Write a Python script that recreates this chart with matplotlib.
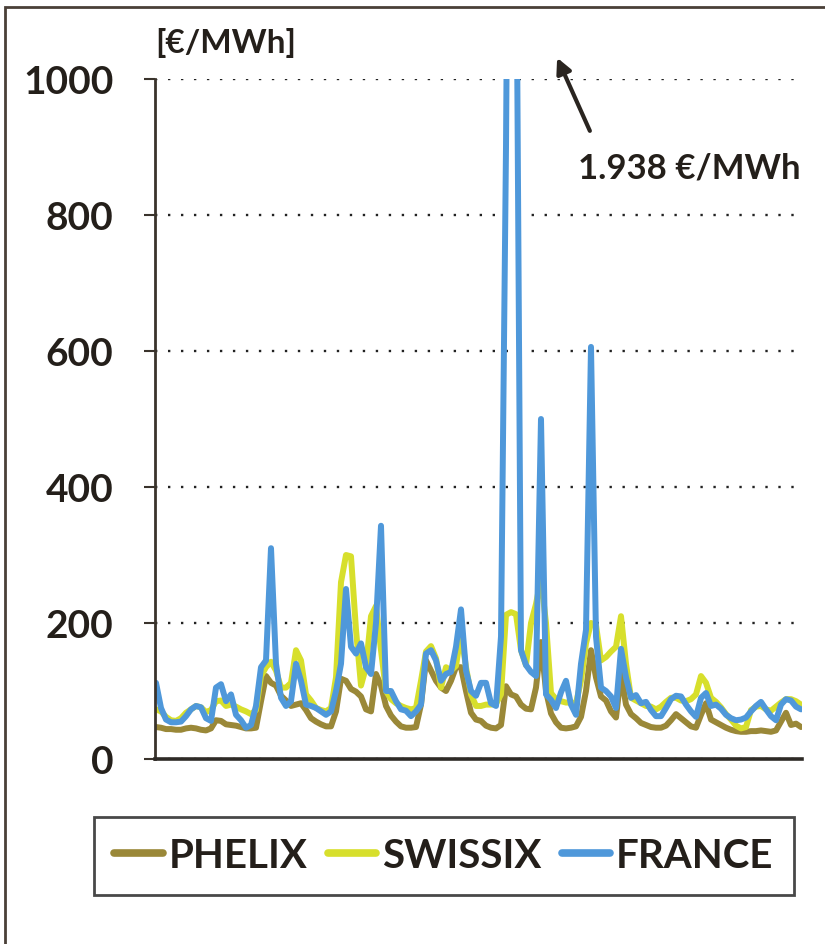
import matplotlib
matplotlib.use("Agg")
import matplotlib.pyplot as plt
from matplotlib.patches import Rectangle
import numpy as np

# hourly spot prices [EUR/MWh]
phelix = [
    47, 46, 44, 44, 43, 43, 45, 46, 45, 43,
    42, 45, 57, 56, 51, 50, 49, 47, 45, 45,
    46, 85, 122, 112, 108, 93, 86, 78, 80, 82,
    72, 60, 55, 51, 48, 48, 70, 118, 115, 103,
    99, 92, 73, 70, 125, 108, 78, 64, 55, 48,
    46, 46, 47, 80, 145, 130, 115, 105, 100, 115,
    135, 135, 100, 68, 58, 56, 49, 46, 45, 50,
    107, 95, 92, 80, 74, 73, 105, 172, 100, 67,
    54, 46, 45, 46, 48, 62, 100, 160, 120, 92,
    86, 70, 61, 125, 80, 66, 60, 53, 50, 47,
    46, 46, 49, 57, 66, 60, 54, 48, 46, 65,
    82, 58, 54, 50, 46, 43, 41, 40, 40, 41,
    41, 42, 41, 40, 42, 55, 68, 50, 52, 47,
]
swissix = [
    73, 70, 62, 57, 56, 60, 68, 73, 78, 76,
    69, 72, 85, 86, 78, 80, 77, 73, 70, 66,
    72, 122, 135, 143, 130, 105, 105, 112, 160, 145,
    95, 86, 75, 72, 70, 75, 120, 260, 300, 298,
    190, 108, 135, 210, 225, 160, 100, 88, 82, 78,
    75, 73, 75, 115, 158, 166, 148, 105, 135, 130,
    137, 185, 135, 95, 78, 78, 80, 80, 81, 95,
    212, 216, 213, 160, 138, 200, 228, 265, 200, 97,
    88, 85, 83, 83, 82, 115, 170, 200, 197, 145,
    150, 158, 165, 210, 140, 90, 86, 82, 78, 77,
    73, 77, 84, 90, 90, 86, 85, 88, 95, 122,
    112, 90, 84, 76, 66, 58, 49, 45, 47, 72,
    77, 78, 73, 71, 77, 83, 88, 88, 85, 80,
]
france = [
    112, 75, 58, 54, 54, 55, 63, 73, 78, 76,
    60, 56, 105, 110, 85, 95, 65, 57, 46, 50,
    78, 135, 145, 310, 140, 90, 78, 85, 140, 115,
    80, 78, 75, 70, 65, 70, 100, 140, 250, 165,
    155, 170, 135, 125, 200, 343, 100, 100, 85, 73,
    71, 63, 70, 80, 155, 160, 145, 115, 125, 128,
    165, 220, 130, 100, 93, 112, 112, 82, 78, 180,
    900, 1938, 1300, 160, 138, 128, 122, 500, 95, 87,
    75, 98, 115, 80, 65, 140, 190, 606, 180, 105,
    100, 92, 75, 162, 120, 90, 94, 82, 84, 72,
    63, 63, 75, 88, 93, 92, 80, 70, 62, 90,
    97, 78, 80, 74, 65, 60, 57, 58, 61, 70,
    78, 84, 73, 63, 57, 80, 88, 86, 77, 73,
]
series_names = ["PHELIX", "SWISSIX", "FRANCE"]
series_colors = ["#9a8838", "#d7df2c", "#4f98da"]
y_ticks = [0, 200, 400, 600, 800, 1000]
peak_label = "1.938 €/MWh"
unit_label = "[€/MWh]"

FONT = ["Lato", "DejaVu Sans"]
TXT = "#241f1a"
plt.rcParams["font.family"] = FONT
plt.rcParams["font.weight"] = "bold"

fig = plt.figure(figsize=(8.25, 9.45), dpi=100)
ax = fig.add_axes([155 / 825, 185 / 945, 647 / 825, 680 / 945])

hours = np.arange(len(france))
lines = []
for vals, name, col in zip([phelix, swissix, france], series_names, series_colors):
    ln, = ax.plot(hours, vals, color=col, linewidth=4.3, label=name,
                  solid_joinstyle="round", solid_capstyle="round")
    lines.append(ln)

ax.set_xlim(-0.2, len(france) - 0.8)
ax.set_ylim(0, 1000)
ax.set_yticks(y_ticks)
ax.set_xticks([])
ax.yaxis.grid(True, linestyle=(0, (1, 4.5)), color="#222222", linewidth=1.7)
ax.set_axisbelow(True)
for s in ["top", "right"]:
    ax.spines[s].set_visible(False)
ax.spines["left"].set_color("#3a332c")
ax.spines["left"].set_linewidth(2)
ax.spines["bottom"].set_color("#2e2a26")
ax.spines["bottom"].set_linewidth(2.6)
ax.tick_params(axis="y", length=8, width=1.5, color="#3a332c", pad=22,
               labelsize=28, labelcolor=TXT)
for lab in ax.get_yticklabels():
    lab.set_fontweight("bold")

# unit label above axis
ax.text(0.0, 1.055, unit_label, transform=ax.transAxes, fontsize=24,
        fontweight="bold", color=TXT, ha="left", va="center")

# annotation for the clipped French peak
ax.annotate("", xy=(80, 1035), xytext=(87, 920),
            arrowprops=dict(arrowstyle="-|>,head_length=0.9,head_width=0.45",
                            color="#2a2520", lw=3), annotation_clip=False)
ax.text(len(france) - 1, 870, peak_label, fontsize=25, fontweight="bold",
        color=TXT, ha="right", va="center")

leg = fig.legend(handles=lines, loc="center", ncol=3,
                 bbox_to_anchor=(444 / 825, 1 - 857 / 945),
                 fontsize=29, frameon=True, fancybox=False,
                 handlelength=1.2, handletextpad=0.15, columnspacing=0.5,
                 borderpad=0.5, borderaxespad=0)
leg.get_frame().set_edgecolor("#1a1a1a")
leg.get_frame().set_linewidth(2)
for t in leg.get_texts():
    t.set_color(TXT)
    t.set_fontweight("bold")
for h in leg.get_lines():
    h.set_linewidth(5.5)

# outer frame of the figure
fig.patches.append(Rectangle((5 / 825, -0.05), 1.1, 1 - 8 / 945 + 0.05,
                             transform=fig.transFigure, fill=False,
                             edgecolor="#4a4038", linewidth=2))

fig.savefig("out.png", dpi=100)
